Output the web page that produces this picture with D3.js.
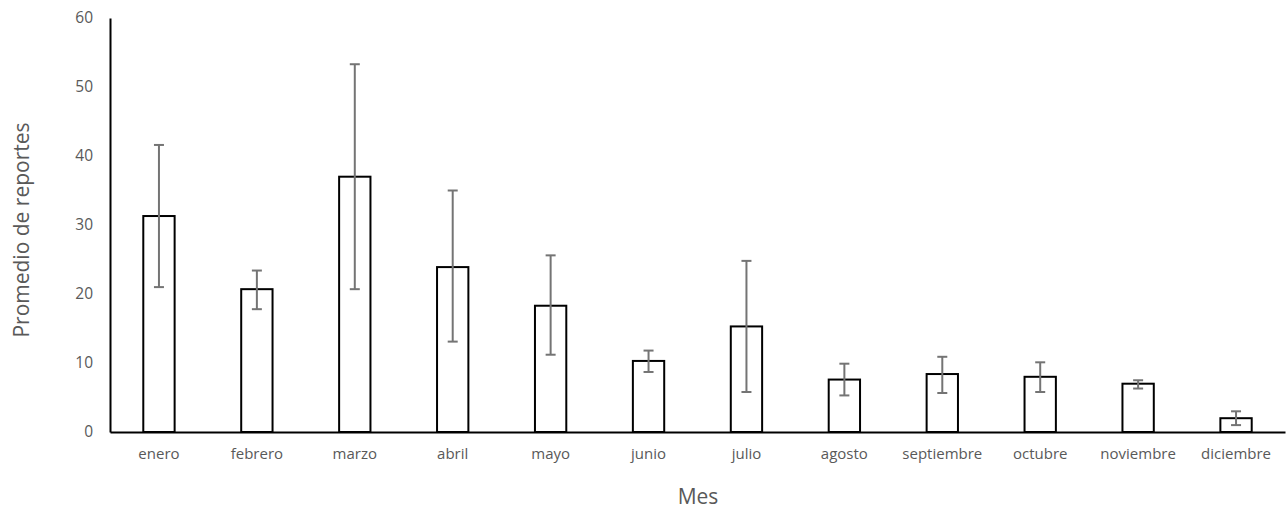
<!DOCTYPE html>
<html><head><meta charset="utf-8">
<script src="https://cdn.jsdelivr.net/npm/d3@7"></script>
<style>body{margin:0;background:#fff;} svg text{font-family:"Open Sans","Liberation Sans",sans-serif;}</style>
</head><body><svg id="c" width="1286" height="510"></svg>
<script>
const categories = ["enero","febrero","marzo","abril","mayo","junio","julio","agosto","septiembre","octubre","noviembre","diciembre"];
const means = [31.3, 20.7, 37.0, 23.9, 18.3, 10.3, 15.3, 7.6, 8.4, 8.0, 7.0, 2.0];
const errUpper = [41.6, 23.4, 53.3, 35.0, 25.6, 11.8, 24.8, 9.9, 10.9, 10.1, 7.5, 3.0];
const errLower = [21.0, 17.8, 20.7, 13.1, 11.2, 8.7, 5.8, 5.3, 5.65, 5.8, 6.3, 1.0];
const yTicks = [0, 10, 20, 30, 40, 50, 60];

const svg = d3.select("#c");
const x = d3.scaleBand().domain(categories).range([110, 1285]).paddingInner(0.68).paddingOuter(0.34);
const y = d3.scaleLinear().domain([0, 60]).range([432, 18]);

// bars
svg.append("g").selectAll("rect").data(categories).join("rect")
  .attr("x", d => x(d)).attr("width", x.bandwidth())
  .attr("y", (d,i) => y(means[i])).attr("height", (d,i) => y(0) - y(means[i]))
  .attr("fill", "#fff").attr("stroke", "#000").attr("stroke-width", 2);

// error bars
const eb = svg.append("g").attr("stroke", "#747474").attr("stroke-width", 2);
categories.forEach((c, i) => {
  const cx = x(c) + x.bandwidth()/2;
  eb.append("line").attr("x1", cx).attr("x2", cx).attr("y1", y(errUpper[i])).attr("y2", y(errLower[i]));
  eb.append("line").attr("x1", cx-5).attr("x2", cx+5).attr("y1", y(errUpper[i])).attr("y2", y(errUpper[i]));
  eb.append("line").attr("x1", cx-5).attr("x2", cx+5).attr("y1", y(errLower[i])).attr("y2", y(errLower[i]));
});

// y axis
const ya = svg.append("g").attr("transform", "translate(110,0)")
  .call(d3.axisLeft(y).tickValues(yTicks).tickSize(0).tickPadding(17));
ya.select(".domain").attr("stroke", "#000").attr("stroke-width", 2);
ya.selectAll("text").attr("fill", "#595959").attr("font-size", 15.5).style("font-family", "Open Sans, sans-serif");

// x axis
const xa = svg.append("g").attr("transform", "translate(0,432)")
  .call(d3.axisBottom(x).tickSize(0).tickPadding(16));
xa.select(".domain").attr("stroke", "#000").attr("stroke-width", 2);
xa.selectAll("text").attr("fill", "#595959").attr("font-size", 15).style("font-family", "Open Sans, sans-serif");

// titles
svg.append("text").attr("x", 698).attr("y", 504).attr("text-anchor", "middle")
  .attr("fill", "#595959").attr("font-size", 21).text("Mes");
svg.append("text").attr("transform", "translate(29,230) rotate(-90)").attr("text-anchor", "middle")
  .attr("fill", "#595959").attr("font-size", 21).text("Promedio de reportes");
</script></body></html>
